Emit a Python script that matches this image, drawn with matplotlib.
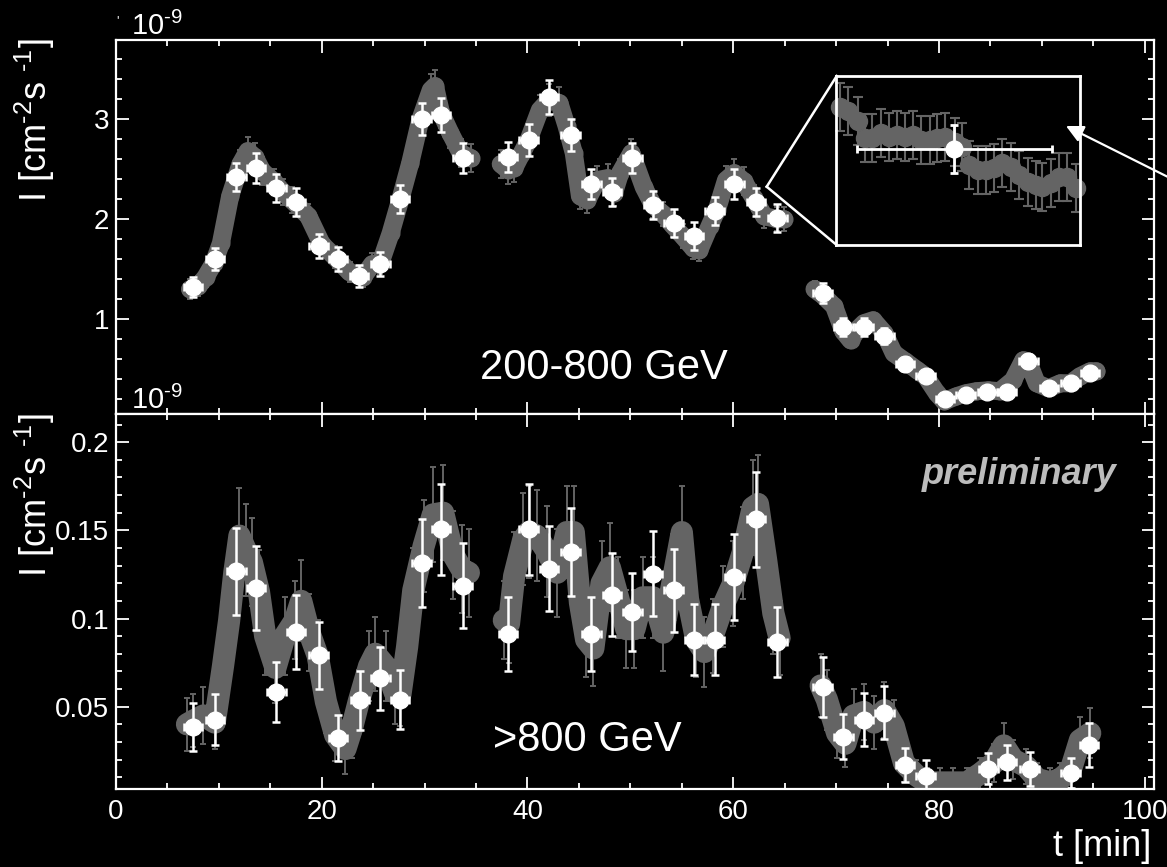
import matplotlib
matplotlib.use("Agg")
import matplotlib.pyplot as plt
import numpy as np
from matplotlib.ticker import MultipleLocator, FixedLocator
from matplotlib.lines import Line2D

plt.rcParams['font.family'] = ['Liberation Sans', 'DejaVu Sans']
plt.rcParams['mathtext.fontset'] = 'custom'
plt.rcParams['mathtext.rm'] = 'Liberation Sans'
plt.rcParams['mathtext.it'] = 'Liberation Sans:italic'
plt.rcParams['mathtext.default'] = 'regular'

# ---------------- data ----------------
# 200-800 GeV, fine-binned (grey) light curve [1e-9 cm^-2 s^-1]
hi_gray_t = [7.2, 8.0, 8.7, 9.5, 10.2, 11.1, 12.1, 12.8, 13.5, 14.2, 15.4, 16.2, 17.1, 18.7,
             20.0, 21.3, 22.7, 24.0, 24.9, 25.7, 26.7, 27.65, 28.6, 29.6, 30.6, 31.0, 31.6,
             32.5, 33.5, 34.5,
             37.4, 38.1, 38.7, 39.4, 40.1, 41.2, 42.1, 43.1, 43.8, 44.5, 45.1, 45.8, 46.8,
             47.8, 48.4, 49.0, 50.1, 51.3, 52.2, 53.2, 54.1, 55.1, 56.1, 56.7, 57.7, 58.4,
             59.3, 60.1, 61.0, 62.0, 63.0, 64.3, 64.9,
             67.9, 68.7, 69.8, 70.7, 71.4, 72.1, 72.7, 73.6, 74.7, 75.6, 76.7, 77.9, 78.7,
             79.8, 80.5, 81.7, 82.6, 83.6, 84.8, 85.9, 87.2, 88.2, 88.65, 89.5, 90.65, 91.8,
             92.8, 93.7, 94.7, 95.3]
hi_gray_f = [1.30, 1.33, 1.42, 1.56, 1.76, 2.23, 2.55, 2.68, 2.62, 2.48, 2.37, 2.27, 2.19, 2.03,
             1.75, 1.62, 1.47, 1.42, 1.55, 1.56, 1.86, 2.20, 2.56, 3.00, 3.29, 3.33, 3.06,
             2.86, 2.66, 2.61,
             2.55, 2.49, 2.51, 2.65, 2.79, 3.09, 3.19, 3.16, 2.93, 2.66, 2.23, 2.19, 2.39,
             2.41, 2.26, 2.46, 2.66, 2.32, 2.14, 2.05, 1.94, 1.83, 1.71, 1.69, 1.93, 2.09,
             2.39, 2.46, 2.38, 2.21, 2.03, 2.00, 2.00,
             1.30, 1.24, 1.13, 0.88, 0.79, 0.90, 0.96, 0.99, 0.86, 0.66, 0.58, 0.49, 0.43,
             0.26, 0.18, 0.23, 0.26, 0.28, 0.29, 0.28, 0.39, 0.59, 0.58, 0.36, 0.31, 0.36,
             0.36, 0.43, 0.48, 0.48]
hi_gray_e = [0.10, 0.10, 0.10, 0.11, 0.11, 0.13, 0.14, 0.14, 0.14, 0.14, 0.13, 0.13, 0.13, 0.12,
             0.11, 0.11, 0.10, 0.10, 0.11, 0.11, 0.12, 0.13, 0.14, 0.15, 0.16, 0.16, 0.15,
             0.15, 0.14, 0.14,
             0.14, 0.14, 0.14, 0.14, 0.15, 0.15, 0.16, 0.16, 0.15, 0.14, 0.13, 0.13, 0.14,
             0.14, 0.13, 0.14, 0.14, 0.13, 0.13, 0.12, 0.12, 0.12, 0.11, 0.11, 0.12, 0.12,
             0.14, 0.14, 0.14, 0.13, 0.12, 0.12, 0.12,
             0.08, 0.08, 0.07, 0.07, 0.06, 0.07, 0.07, 0.07, 0.07, 0.06, 0.06, 0.05, 0.05,
             0.04, 0.04, 0.04, 0.04, 0.04, 0.04, 0.04, 0.05, 0.06, 0.06, 0.05, 0.04, 0.05,
             0.05, 0.05, 0.05, 0.05]

# 200-800 GeV, 2-min bins (white)
hi_t = [7.5, 9.6, 11.7, 13.6, 15.6, 17.5, 19.7, 21.6, 23.6, 25.7, 27.6, 29.7, 31.6, 33.7,
        38.1, 40.1, 42.1, 44.2, 46.2, 48.2, 50.2, 52.2, 54.2, 56.2, 58.2, 60.1, 62.2, 64.3,
        68.7, 70.7, 72.7, 74.7, 76.7, 78.7, 80.6, 82.6, 84.7, 86.6, 88.7, 90.7, 92.8, 94.7]
hi_f = [1.32, 1.60, 2.42, 2.51, 2.31, 2.17, 1.73, 1.60, 1.43, 1.55, 2.20, 3.00, 3.04, 2.61,
        2.62, 2.79, 3.22, 2.84, 2.35, 2.27, 2.61, 2.14, 1.96, 1.83, 2.08, 2.35, 2.17, 2.01,
        1.26, 0.92, 0.92, 0.83, 0.55, 0.43, 0.20, 0.24, 0.27, 0.27, 0.58, 0.31, 0.36, 0.46]
hi_e = [0.10, 0.11, 0.14, 0.15, 0.14, 0.14, 0.12, 0.12, 0.11, 0.12, 0.14, 0.16, 0.17, 0.15,
        0.15, 0.16, 0.17, 0.16, 0.15, 0.14, 0.15, 0.14, 0.14, 0.14, 0.14, 0.15, 0.14, 0.14,
        0.10, 0.09, 0.09, 0.08, 0.07, 0.06, 0.05, 0.05, 0.05, 0.05, 0.07, 0.05, 0.06, 0.06]

# >800 GeV, fine-binned (grey)
lo_gray_t = [6.9, 7.5, 8.5, 9.6, 10.4, 11.0, 11.5, 12.0, 12.6, 13.2, 13.9, 14.5, 15.5, 16.4,
             17.4, 18.0, 18.8, 19.6, 20.4, 21.3, 22.3, 22.9, 23.6, 24.6, 25.2, 26.2, 27.1,
             27.65, 28.3, 28.9, 29.9, 30.8, 31.8, 32.8, 33.6, 34.3,
             37.7, 38.2, 38.7, 39.6, 40.1, 40.9, 41.9, 42.9, 43.8, 44.5, 45.1, 45.7, 46.4,
             47.2, 48.0, 48.8, 49.6, 50.4, 51.2, 52.2, 53.2, 54.2, 55.0, 55.6, 56.4, 57.2,
             58.0, 59.0, 60.0, 60.9, 61.9, 62.4, 63.2, 63.9, 64.5,
             68.5, 69.1, 70.1, 70.9, 71.7, 72.7, 73.7, 74.7, 75.6, 76.6, 77.8, 78.8, 80.1,
             81.4, 82.7, 84.0, 85.3, 86.3, 87.2, 88.5, 89.5, 90.8, 91.8, 92.8, 93.7, 94.7]
lo_gray_f = [0.040, 0.042, 0.045, 0.041, 0.073, 0.099, 0.126, 0.147, 0.139, 0.132, 0.115, 0.090,
             0.072, 0.090, 0.099, 0.110, 0.092, 0.079, 0.053, 0.034, 0.026, 0.037, 0.053, 0.073,
             0.080, 0.073, 0.058, 0.057, 0.084, 0.116, 0.141, 0.159, 0.160, 0.136, 0.128, 0.126,
             0.099, 0.097, 0.124, 0.145, 0.149, 0.147, 0.138, 0.126, 0.149, 0.149, 0.109, 0.088,
             0.083, 0.120, 0.129, 0.112, 0.094, 0.094, 0.112, 0.112, 0.092, 0.124, 0.149, 0.111,
             0.088, 0.081, 0.090, 0.107, 0.120, 0.137, 0.163, 0.165, 0.133, 0.103, 0.089,
             0.062, 0.054, 0.035, 0.029, 0.045, 0.047, 0.041, 0.048, 0.039, 0.018, 0.011, 0.007,
             0.007, 0.007, 0.007, 0.012, 0.018, 0.028, 0.020, 0.016, 0.009, 0.007, 0.009, 0.014,
             0.031, 0.035]
lo_gray_e = [0.015, 0.015, 0.016, 0.015, 0.019, 0.022, 0.025, 0.027, 0.026, 0.025, 0.024, 0.022,
             0.020, 0.022, 0.022, 0.023, 0.022, 0.020, 0.018, 0.015, 0.014, 0.016, 0.018, 0.020,
             0.021, 0.020, 0.018, 0.018, 0.021, 0.024, 0.026, 0.027, 0.027, 0.025, 0.025, 0.025,
             0.022, 0.022, 0.025, 0.026, 0.026, 0.026, 0.026, 0.025, 0.026, 0.026, 0.023, 0.021,
             0.021, 0.024, 0.025, 0.023, 0.022, 0.022, 0.023, 0.023, 0.022, 0.025, 0.026, 0.023,
             0.021, 0.020, 0.021, 0.023, 0.024, 0.026, 0.027, 0.028, 0.025, 0.023, 0.021,
             0.018, 0.017, 0.014, 0.013, 0.015, 0.016, 0.015, 0.016, 0.015, 0.011, 0.009, 0.008,
             0.008, 0.008, 0.008, 0.009, 0.011, 0.013, 0.011, 0.010, 0.009, 0.008, 0.009, 0.010,
             0.013, 0.014]

# >800 GeV, 2-min bins (white)
lo_t = [7.5, 9.6, 11.7, 13.6, 15.6, 17.5, 19.7, 21.6, 23.7, 25.7, 27.6, 29.7, 31.6, 33.7,
        38.1, 40.1, 42.1, 44.2, 46.2, 48.2, 50.2, 52.2, 54.2, 56.2, 58.2, 60.1, 62.2, 64.3,
        68.7, 70.7, 72.7, 74.7, 76.7, 78.7, 84.8, 86.6, 88.8, 92.8, 94.6]
lo_f = [0.0385, 0.0427, 0.1268, 0.1174, 0.0584, 0.0925, 0.0792, 0.0323, 0.0535, 0.0660,
        0.0540, 0.1316, 0.1505, 0.1187,
        0.0913, 0.1505, 0.1282, 0.1378, 0.0913, 0.1136, 0.1036, 0.1255, 0.1160, 0.0880,
        0.0880, 0.1234, 0.1562, 0.0868,
        0.0612, 0.0329, 0.0427, 0.0465, 0.0171, 0.0109, 0.0147, 0.0184, 0.0147, 0.0124, 0.0280]
lo_e = [0.0134, 0.0147, 0.0246, 0.0240, 0.0170, 0.0210, 0.0190, 0.0130, 0.0170, 0.0180,
        0.0166, 0.0250, 0.0260, 0.0240,
        0.0210, 0.0260, 0.0240, 0.0250, 0.0210, 0.0235, 0.0220, 0.0240, 0.0234, 0.0200,
        0.0200, 0.0245, 0.0270, 0.0200,
        0.0170, 0.0128, 0.0148, 0.0150, 0.0097, 0.0090, 0.0088, 0.0100, 0.0097, 0.0087, 0.0125]

# inset: zoom on fine bins around one 2-min bin [s, 1e-9 cm^-2 s^-1]
ins_gray_t = [2.4, 7.6, 13.3, 17.8, 22.4, 27.6, 32.7, 37.6, 42.2, 47.3, 52.4, 57.6, 62.0, 67.3,
              72.9, 77.6, 82.0, 87.1, 92.2, 97.3, 102.0, 107.6, 112.7, 117.8, 122.9, 126.9,
              132.0, 137.1, 142.2, 147.3]
ins_gray_f = [2.380, 2.360, 2.310, 2.225, 2.225, 2.250, 2.233, 2.242, 2.233, 2.242, 2.217, 2.217,
              2.225, 2.233, 2.208, 2.183, 2.092, 2.067, 2.067, 2.075, 2.100, 2.083, 2.042, 2.008,
              1.992, 1.983, 2.000, 2.033, 2.033, 1.975]
ins_gray_e = [0.12, 0.12, 0.12, 0.12, 0.12, 0.12, 0.12, 0.12, 0.12, 0.12, 0.12, 0.12, 0.12, 0.12,
              0.12, 0.12, 0.12, 0.12, 0.12, 0.12, 0.12, 0.12, 0.12, 0.12, 0.12, 0.12, 0.12, 0.12,
              0.12, 0.12]
ins_white_t = [72.7]
ins_white_f = [2.17]
ins_white_e = [0.12]
ins_white_xe = [60.0]

x_ticks = [0, 20, 40, 60, 80, 100]
hi_yticks = [1, 2, 3]
lo_yticks = [0.05, 0.1, 0.15, 0.2]
lo_yticklabels = ["0.05", "0.1", "0.15", "0.2"]

# ---------------- figure ----------------
W, H = 1167, 867
GRAY = '#646464'
fig = plt.figure(figsize=(W / 100, H / 100), dpi=100, facecolor='black')


def fx(px):
    return px / W


def fy(py):
    return 1 - py / H


ax1 = fig.add_axes([fx(116), fy(414), fx(1154) - fx(116), fy(40) - fy(414)])
ax2 = fig.add_axes([fx(116), fy(789), fx(1154) - fx(116), fy(414) - fy(789)])

for ax in (ax1, ax2):
    ax.set_facecolor('black')
    for s in ax.spines.values():
        s.set_color('white')
        s.set_linewidth(1.6)
    ax.set_xlim(0, 100.9)
    ax.xaxis.set_major_locator(FixedLocator(x_ticks))
    ax.xaxis.set_minor_locator(MultipleLocator(5))
    ax.tick_params(which='both', direction='in', top=True, right=True, colors='white',
                   labelsize=20, width=1.3)
    ax.tick_params(axis='y', which='both', pad=5)
    ax.tick_params(axis='x', which='both', pad=7)
    ax.tick_params(which='major', length=9)
    ax.tick_params(which='minor', length=4.5)

ax1.set_ylim(0.053, 3.79)
ax1.yaxis.set_major_locator(FixedLocator(hi_yticks))
ax1.set_yticklabels([str(v) for v in hi_yticks])
ax1.yaxis.set_minor_locator(MultipleLocator(0.2))
ax1.tick_params(labelbottom=False)

ax2.set_ylim(0.0033, 0.216)
ax2.yaxis.set_major_locator(FixedLocator(lo_yticks))
ax2.set_yticklabels(lo_yticklabels)
ax2.yaxis.set_minor_locator(MultipleLocator(0.01))
ax2.set_xticklabels([str(v) for v in x_ticks])


def segments(t):
    t = np.asarray(t)
    breaks = np.where(np.diff(t) > 2.5)[0] + 1
    return np.split(np.arange(len(t)), breaks)


def draw(ax, gt, gf, ge, wt, wf, we, band_lw, gms):
    gt, gf, ge = map(np.asarray, (gt, gf, ge))
    for idx in segments(gt):
        ax.plot(gt[idx], gf[idx], color=GRAY, lw=band_lw, solid_capstyle='round',
                solid_joinstyle='round', zorder=2)
    ax.errorbar(gt, gf, yerr=ge, fmt='o', color=GRAY, ms=gms, mec=GRAY, elinewidth=1.4,
                capsize=2.5, capthick=1.4, zorder=2)
    ax.errorbar(wt, wf, yerr=we, xerr=0.9, fmt='o', color='white', ms=12, mec='white',
                elinewidth=1.8, capsize=3, capthick=1.8, zorder=3)


draw(ax1, hi_gray_t, hi_gray_f, hi_gray_e, hi_t, hi_f, hi_e, 13, 12)
draw(ax2, lo_gray_t, lo_gray_f, lo_gray_e, lo_t, lo_f, lo_e, 16, 13)

# inset
axi = fig.add_axes([fx(836), fy(245), fx(1080) - fx(836), fy(76) - fy(245)])
axi.set_facecolor('black')
for s in axi.spines.values():
    s.set_color('white')
    s.set_linewidth(2)
axi.set_xticks([])
axi.set_yticks([])
axi.set_xlim(0, 150)
axi.set_ylim(1.692, 2.537)
axi.errorbar(ins_gray_t, ins_gray_f, yerr=ins_gray_e, fmt='o', color=GRAY, ms=13, mec=GRAY,
             elinewidth=1.5, capsize=3.5, capthick=1.5, zorder=2, clip_on=False)
axi.errorbar(ins_white_t, ins_white_f, yerr=ins_white_e, xerr=ins_white_xe, fmt='o',
             color='white', ms=12, mec='white', elinewidth=2, capsize=3, capthick=2, zorder=3)

# callout lines
fig.add_artist(Line2D([fx(766.7), fx(836.7)], [fy(186.7), fy(76)], color='white', lw=1.8))
fig.add_artist(Line2D([fx(766.7), fx(836.7)], [fy(186.7), fy(245)], color='white', lw=1.8))
# arrow
fig.add_artist(matplotlib.patches.FancyArrowPatch(
    (fx(1170), fy(178)), (fx(1066), fy(126)), transform=fig.transFigure,
    arrowstyle='-|>', mutation_scale=26, color='white', lw=1.6, shrinkA=0, shrinkB=0))

# texts
HY = '\u2010'
fig.text(fx(480), fy(368), '200-800 GeV', color='white', fontsize=30, ha='left', va='center')
fig.text(fx(493), fy(740), '>800 GeV', color='white', fontsize=30, ha='left', va='center')
fig.text(fx(1117), fy(475), 'preliminary', color='#bcbcbc', fontsize=26, ha='right',
         va='center', fontweight='bold', fontstyle='italic')
fig.text(fx(1151), fy(847), 't [min]', color='white', fontsize=26, ha='right', va='center')
ylab = 'I [cm$^{' + HY + '2}$s $^{' + HY + '1}$]'
fig.text(fx(35), fy(38), ylab, color='white', fontsize=26, rotation=90, ha='center', va='top')
fig.text(fx(35), fy(413), ylab, color='white', fontsize=26, rotation=90, ha='center', va='top')
fig.text(fx(131), fy(35), '10$^{' + HY + '9}$', color='white', fontsize=21, ha='left',
         va='baseline')
fig.text(fx(131), fy(409), '10$^{' + HY + '9}$', color='white', fontsize=21, ha='left',
         va='baseline')
fig.text(fx(116), fy(24), "'", color='white', fontsize=9, ha='left', va='baseline')

fig.savefig('out.png', dpi=100, facecolor='black')
